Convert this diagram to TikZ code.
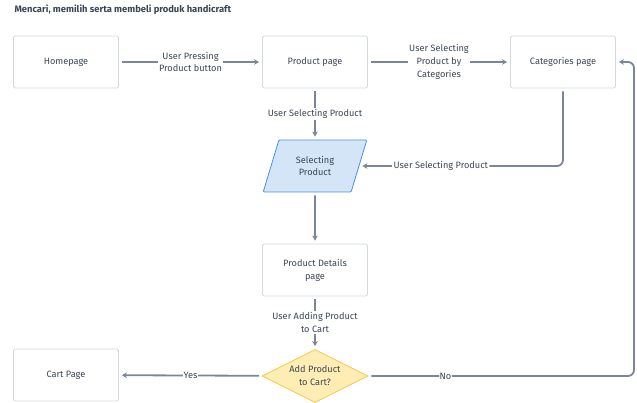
\documentclass[tikz,border=0pt]{standalone}
\usepackage{fontspec}
\setmainfont{Fira Sans}
\usetikzlibrary{shapes.geometric,arrows.meta}
\definecolor{linegray}{HTML}{7A8696}
\definecolor{boxgray}{HTML}{D3D9E0}
\definecolor{txtgray}{HTML}{3A4655}
\definecolor{selfill}{HTML}{D4E5F7}
\definecolor{seldraw}{HTML}{4A90E2}
\definecolor{askfill}{HTML}{FFEDB3}
\definecolor{askdraw}{HTML}{F3C846}
\tikzset{
  page/.style={draw=boxgray,line width=0.8pt,rounded corners=1.5pt,minimum width=105pt,minimum height=52pt,align=center,text=txtgray},
  flow/.style={draw=linegray,line width=1.8pt,-{Stealth[length=5pt,width=5.5pt]},shorten >=3pt,shorten <=3pt},
  lbl/.style={fill=white,inner sep=1.5pt,align=center,text=txtgray}
}

\begin{document}
\begin{tikzpicture}[x=1pt,y=-1pt,font=\fontsize{9.2}{12.8}\selectfont]
\useasboundingbox (0,0) rectangle (637,403);
\node [anchor=west,text=txtgray,font=\fontsize{9.4}{11}\selectfont\bfseries] (title) at (11,10) {Mencari, memilih serta membeli produk handicraft};

% the pages
\node [page] (home) at (66,62)  {Homepage};
\node [page] (prod) at (315,62) {Product page};
\node [page] (cat)  at (563,62) {Categories page};
\node [page] (det)  at (315,270) {Product Details\\page};
\node [page] (cart) at (66,375) {Cart Page};

% selecting and the question
\node [trapezium,trapezium left angle=70,trapezium right angle=110,trapezium stretches=true,
       minimum width=104pt,minimum height=52pt,fill=selfill,draw=seldraw,line width=0.8pt,
       rounded corners=1pt,align=center,text=txtgray] (sel) at (315,166) {Selecting\\Product};
\node [diamond,aspect=2,inner sep=0pt,minimum width=106pt,minimum height=53pt,fill=askfill,
       draw=askdraw,line width=0.8pt,align=center,text=txtgray] (ask) at (315,376) {Add Product\\to Cart?};
\coordinate (nocol) at (634,0);

% the flow
\draw [flow] (home) -- node [lbl] {User Pressing\\Product button} (prod);
\draw [flow] (prod) -- node [lbl] {User Selecting\\Product by\\Categories} (cat);
\draw [flow] (prod) -- node [lbl] {User Selecting Product} (sel);
\draw [flow,rounded corners=6pt] (cat.south) |- node [lbl,pos=0.8] {User Selecting Product} (sel.east);
\draw [flow] (sel) -- (det);
\draw [flow] (det) -- node [lbl] {User Adding Product\\to Cart} (ask);
\draw [flow] (ask) -- node [lbl,inner sep=0.5pt] {Yes} (cart);
\draw [flow,rounded corners=6pt] (ask.east) -- node [lbl,pos=0.29,inner sep=0.5pt] {No} (ask.east -| nocol)
      -- (cat.east -| nocol) -- (cat.east);
\end{tikzpicture}
\end{document}
